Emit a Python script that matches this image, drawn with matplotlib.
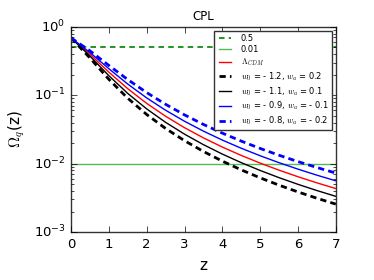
import matplotlib
matplotlib.use("Agg")
import matplotlib.pyplot as plt

plt.style.use("classic")
plt.rcParams["mathtext.fontset"] = "cm"
plt.rcParams["font.family"] = ["DejaVu Sans"]
plt.rcParams["lines.scale_dashes"] = False

z = [0, 0.5, 1, 1.5, 2, 2.5, 3, 3.5, 4, 4.5, 5, 5.5, 6, 6.5, 7]
lcdm = [0.69, 0.39741, 0.21767, 0.12469, 0.076159, 0.049352, 0.033609, 0.023844,
        0.017495, 0.013202, 0.010200, 0.0080397, 0.0064474, 0.0052483, 0.0043285]
m1 = [0.69, 0.35063, 0.17089, 0.090401, 0.052366, 0.032712, 0.021694, 0.015086,
      0.010898, 0.0081217, 0.0062113, 0.0048545, 0.0038651, 0.0031269, 0.0025651]
m2 = [0.69, 0.37372, 0.19320, 0.10633, 0.063227, 0.040216, 0.027021, 0.018975,
      0.013814, 0.010358, 0.0079614, 0.0062486, 0.0049928, 0.0040516, 0.0033324]
m3 = [0.69, 0.42159, 0.24429, 0.14570, 0.091478, 0.060433, 0.041736, 0.029922,
      0.022135, 0.016813, 0.013059, 0.010339, 0.0083222, 0.0067961, 0.0056204]
m4 = [0.69, 0.44614, 0.27303, 0.16956, 0.10951, 0.073808, 0.051722, 0.037491,
      0.027972, 0.021390, 0.016706, 0.013287, 0.010736, 0.0087963, 0.0072952]
h1 = 0.5
h2 = 0.01
labels = ["0.5", "0.01", r"$\Lambda_{CDM}$",
          r"$w_0$ = - 1.2, $w_a$ = 0.2", r"$w_0$ = - 1.1, $w_a$ = 0.1",
          r"$w_0$ = - 0.9, $w_a$ = - 0.1", r"$w_0$ = - 0.8, $w_a$ = - 0.2"]

fig = plt.figure(figsize=(3.74, 2.8), dpi=100, facecolor="white")
ax = fig.add_axes([0.190, 0.171, 0.708, 0.733])
ax.axhline(h1, color="g", lw=1.2, dashes=(4, 3), label=labels[0])
ax.axhline(h2, color="#55bb55", ls="-", lw=1.0, label=labels[1])
ax.plot(z, lcdm, color="r", lw=1, label=labels[2])
ax.plot(z, m1, color="k", lw=2, dashes=(4.5, 3), label=labels[3])
ax.plot(z, m2, color="k", ls="-", lw=1, label=labels[4])
ax.plot(z, m3, color="b", ls="-", lw=1, label=labels[5])
ax.plot(z, m4, color="b", lw=2, dashes=(4.5, 3), label=labels[6])
ax.set_yscale("log")
ax.set_xlim(0, 7)
ax.set_ylim(1e-3, 1)
ax.tick_params(labelsize=9.5)
for s in ax.spines.values():
    s.set_color("#333333")
ax.set_xlabel("z", fontsize=11)
ax.set_ylabel(r"$\Omega_q$(z)", fontsize=11)
ax.set_title("CPL", fontsize=8.5)
leg = ax.legend(loc="upper right", fontsize=6.0, handlelength=2.0, borderaxespad=0.5,
                labelspacing=0.28, borderpad=0.35, handletextpad=0.9)
leg.get_frame().set_edgecolor("#333333")
fig.savefig("out.png", dpi=100, facecolor="white")
